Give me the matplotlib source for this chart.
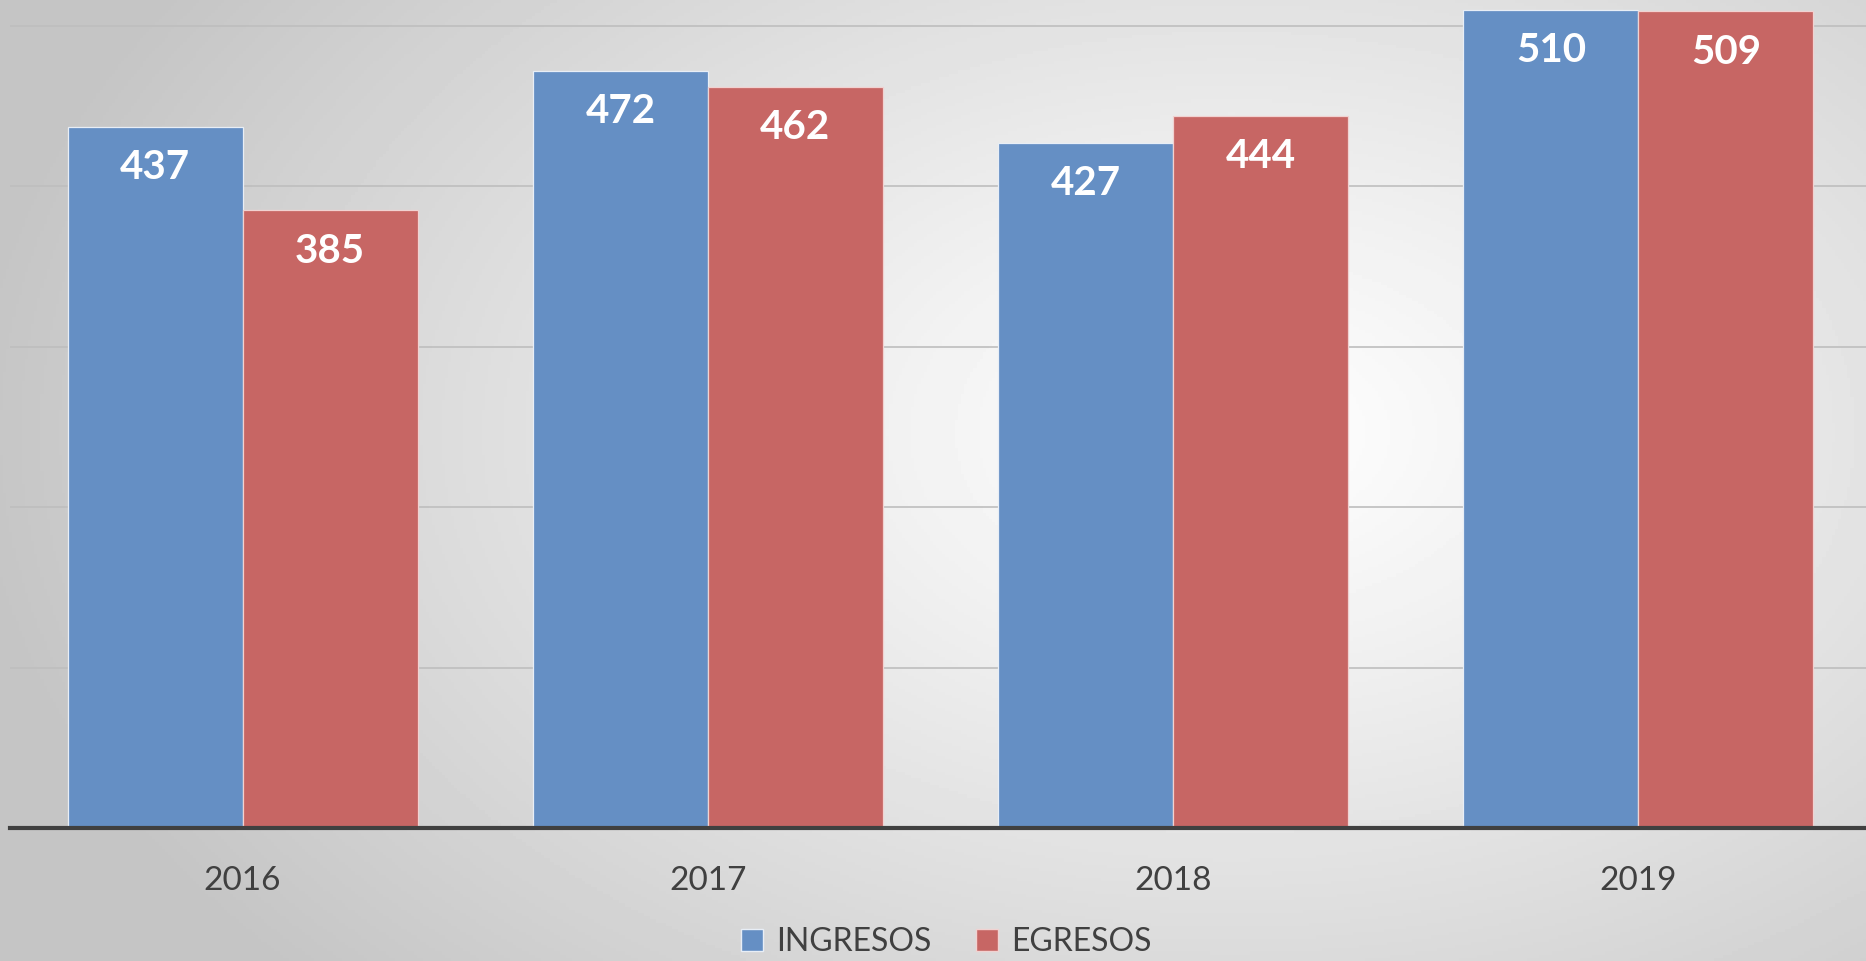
import numpy as np
import matplotlib
matplotlib.use("Agg")
import matplotlib.pyplot as plt
from matplotlib.patches import Patch

# ---- data ----
years = ["2016", "2017", "2018", "2019"]
ingresos = [437, 472, 427, 510]
egresos = [385, 462, 444, 509]
series_names = ["INGRESOS", "EGRESOS"]

BLUE = "#658FC4"
RED = "#C76664"
TEXT = "#404040"

plt.rcParams['font.family'] = ['Lato', 'DejaVu Sans']

W, H = 1866, 961
fig = plt.figure(figsize=(W / 100, H / 100), dpi=100)

# background radial gradient
bg = fig.add_axes([0, 0, 1, 1], zorder=-10)
yy, xx = np.mgrid[0:1:300j, 0:1:600j]
cx, cy = 0.66, 0.45
d = np.sqrt(((xx - cx) * 1.25) ** 2 + ((yy - cy) * 1.0) ** 2)
d = np.clip(d / 0.85, 0, 1)
lo, hi = 0.77, 1.0
img = hi - (hi - lo) * d ** 1.1
bg.imshow(img, cmap="gray", vmin=0, vmax=1, aspect="auto", extent=[0, 1, 1, 0])
bg.set_xlim(0, 1); bg.set_ylim(1, 0)
bg.axis("off")

ax = fig.add_axes([10 / W, 133 / H, 1861 / W, 828 / H])
ax.set_facecolor("none")

x = np.arange(len(years))
bw = 0.376
b1 = ax.bar(x - bw / 2, ingresos, bw, color=BLUE, edgecolor="#E8EEF6", linewidth=0.9, zorder=3)
b2 = ax.bar(x + bw / 2, egresos, bw, color=RED, edgecolor="#F1D2D1", linewidth=0.9, zorder=3)

for bars, vals in ((b1, ingresos), (b2, egresos)):
    for rect, v in zip(bars, vals):
        ax.annotate(str(v), (rect.get_x() + rect.get_width() / 2, v),
                    xytext=(0, -29.5), textcoords="offset points",
                    ha="center", va="center", color="white",
                    fontsize=29, fontweight="bold", zorder=5)

ax.set_xlim(-0.5, 3.5)
ax.set_ylim(0, 516)
ax.set_yticks([100, 200, 300, 400, 500])
ax.yaxis.grid(True, color="#BEBEBE", linewidth=1.2, zorder=0)
ax.set_axisbelow(True)
ax.tick_params(axis="y", left=False, labelleft=False)
ax.set_xticks(x)
ax.set_xticklabels(years, fontsize=24, color=TEXT)
ax.tick_params(axis="x", length=0, pad=27)
for s in ("left", "right", "top"):
    ax.spines[s].set_visible(False)
ax.spines["bottom"].set_color("#404040")
ax.spines["bottom"].set_linewidth(3)
ax.spines["bottom"].set_zorder(6)

handles = [Patch(facecolor=BLUE, edgecolor="#E8EEF6"), Patch(facecolor=RED, edgecolor="#F1D2D1")]
fig.legend(handles, series_names, loc="center", bbox_to_anchor=(0.507, 19 / H),
           ncol=2, frameon=False, fontsize=23, labelcolor=TEXT,
           handlelength=0.7, handleheight=0.7, handletextpad=0.4, columnspacing=1.4)

fig.savefig("out.png", dpi=100)
